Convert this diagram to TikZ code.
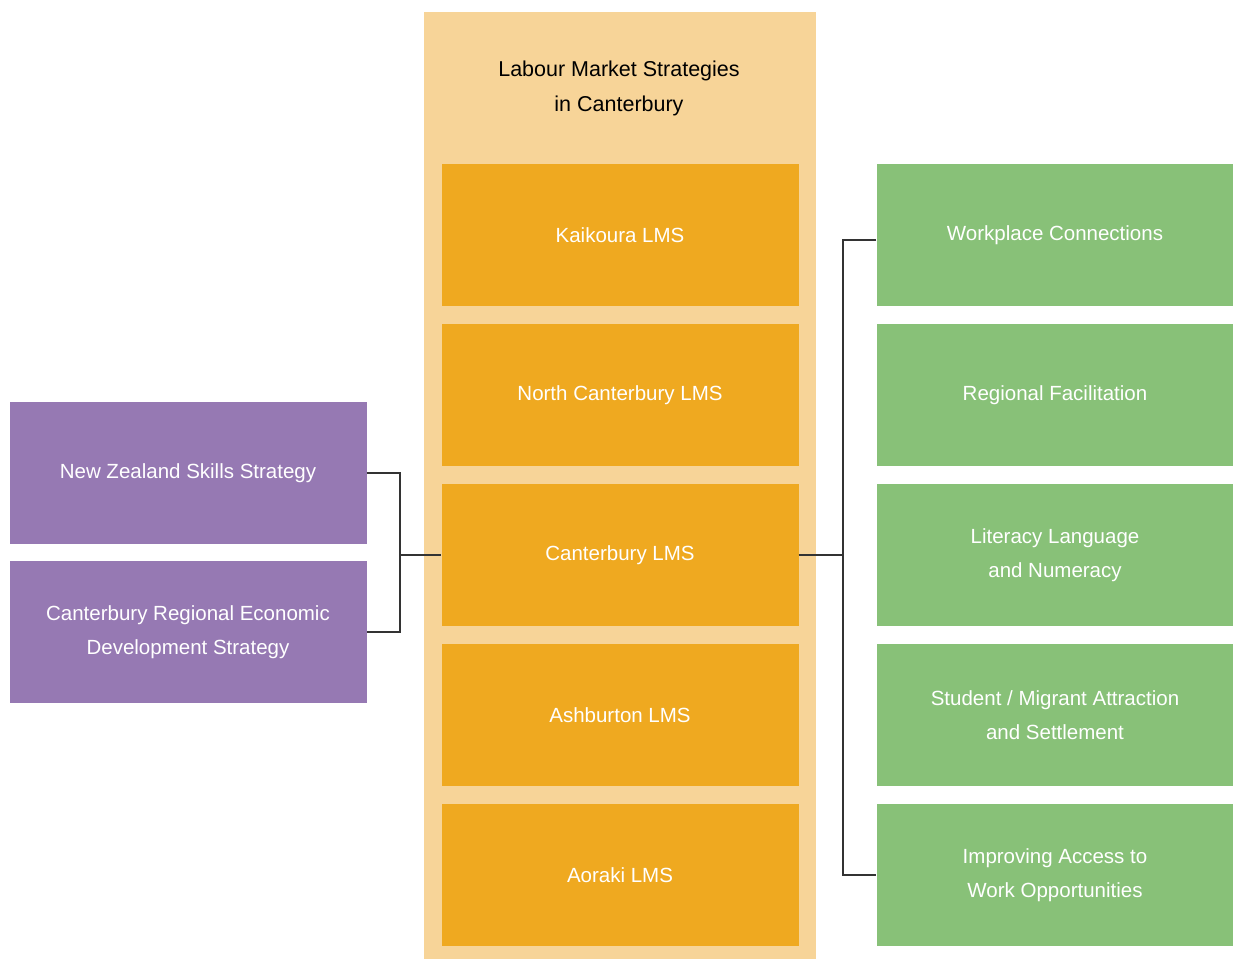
\documentclass[tikz,border=0pt]{standalone}
\usepackage{fontspec}
\setmainfont{Liberation Sans}
\definecolor{bgorange}{HTML}{F7D498}
\definecolor{boxorange}{HTML}{EFA920}
\definecolor{boxgreen}{HTML}{88C178}
\definecolor{boxpurple}{HTML}{9679B3}
\definecolor{linegray}{HTML}{333333}
\tikzset{
  box/.style={minimum width=357pt, minimum height=142pt, inner sep=0pt, align=center, text=white,
    font=\fontsize{20.5}{34}\selectfont},
  obox/.style={box, fill=boxorange},
  gbox/.style={box, fill=boxgreen},
  pbox/.style={box, fill=boxpurple},
  conn/.style={draw=linegray, line width=1.8pt}
}
\begin{document}
\begin{tikzpicture}[x=1pt,y=-1pt]
\useasboundingbox (0,0) rectangle (1233,959);
\fill[bgorange] (424,12) rectangle (816,959);
\node[align=center, font=\fontsize{21.5}{35}\selectfont] (title) at (619,88) {Labour Market Strategies\\in Canterbury};
\node[obox] (o1) at (620,235) {Kaikoura LMS};
\node[obox] (o2) at (620,395) {North Canterbury LMS};
\node[obox] (o3) at (620,555) {Canterbury LMS};
\node[obox] (o4) at (620,715) {Ashburton LMS};
\node[obox] (o5) at (620,875) {Aoraki LMS};
\node[gbox] (g1) at (1055,235) {Workplace Connections};
\node[gbox] (g2) at (1055,395) {Regional Facilitation};
\node[gbox] (g3) at (1055,555) {Literacy Language\\and Numeracy};
\node[gbox] (g4) at (1055,715) {Student / Migrant Attraction\\and Settlement};
\node[gbox] (g5) at (1055,875) {Improving Access to\\Work Opportunities};
\node[pbox] (p1) at (188,473) {New Zealand Skills Strategy};
\node[pbox] (p2) at (188,632) {Canterbury Regional Economic\\Development Strategy};
\coordinate (jl) at (400,555);
\coordinate (jr) at (843,555);
\draw[conn] (p1.east) -| (jl) |- (p2.east);
\draw[conn] (jl) -- (o3.west);
\draw[conn] ([yshift=-5pt]g1.west) -| (jr) |- (g5.west);
\draw[conn] (o3.east) -- (jr);
\end{tikzpicture}
\end{document}
